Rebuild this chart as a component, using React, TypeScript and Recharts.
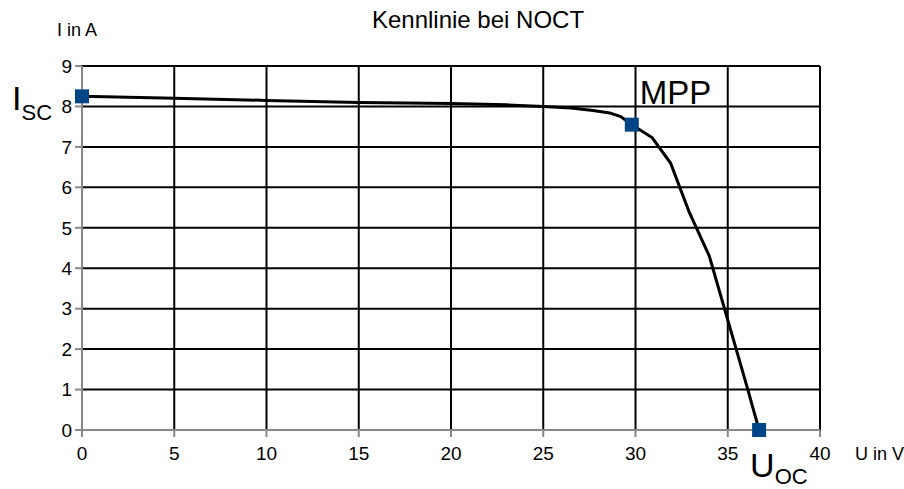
import React from 'react';
import { ComposedChart, CartesianGrid, Line, Scatter, XAxis, YAxis, ReferenceDot } from 'recharts';

const voltages = [0, 5, 10, 15, 20, 23, 25, 26.5, 27.7, 28.6, 29.2, 29.8, 30.9, 31.9, 32.9, 34, 35, 36, 36.7];
const currents = [8.25, 8.2, 8.15, 8.1, 8.07, 8.04, 8.0, 7.96, 7.9, 7.84, 7.75, 7.55, 7.23, 6.6, 5.4, 4.3, 2.72, 1.14, 0];

const markerU = [0, 29.8, 36.7];
const markerI = [8.25, 7.55, 0];

const xTicks = [0, 5, 10, 15, 20, 25, 30, 35, 40];
const yTicks = [0, 1, 2, 3, 4, 5, 6, 7, 8, 9];

const curve = voltages.map((u, i) => ({ u, i: currents[i] }));
const markers = markerU.map((u, k) => ({ u, i: markerI[k] }));

const FONT = '"Liberation Sans", Arial, sans-serif';
const BLUE = '#004586';

const Square = (props: any) => {
  const { cx, cy } = props;
  if (cx == null || cy == null) return null;
  return <rect x={cx - 7} y={cy - 7} width={14} height={14} fill={BLUE} />;
};

const IscLabel = (props: any) => (
  <text x={props.cx - 70} y={props.cy + 14} fontFamily={FONT} fill="#000">
    <tspan fontSize={34}>I</tspan>
    <tspan fontSize={22} dy={10}>SC</tspan>
  </text>
);

const MppLabel = (props: any) => (
  <text x={props.cx + 8} y={props.cy - 21} fontFamily={FONT} fontSize={33} fill="#000">
    MPP
  </text>
);

const UocLabel = (props: any) => (
  <text x={props.cx - 9} y={props.cy + 47} fontFamily={FONT} fill="#000">
    <tspan fontSize={34}>U</tspan>
    <tspan fontSize={22} dy={7}>OC</tspan>
  </text>
);

export default function App() {
  return (
    <div style={{ position: 'relative', width: 904, height: 489, fontFamily: FONT, background: '#fff' }}>
      <style>{'body{margin:0}'}</style>
      <div style={{ position: 'absolute', left: 0, width: 956, top: 6, textAlign: 'center', fontSize: 24, whiteSpace: 'nowrap' }}>
        Kennlinie bei NOCT
      </div>
      <div style={{ position: 'absolute', left: 57, top: 20, fontSize: 18, whiteSpace: 'nowrap' }}>I in A</div>
      <div style={{ position: 'absolute', left: 855, top: 444, fontSize: 18, whiteSpace: 'nowrap' }}>U in V</div>
      <ComposedChart width={904} height={489} margin={{ top: 66, right: 84, bottom: 29, left: 52 }}>
        <CartesianGrid stroke="#000" strokeWidth={2} horizontalValues={yTicks} verticalValues={xTicks} />
        <XAxis
          type="number"
          dataKey="u"
          domain={[0, 40]}
          ticks={xTicks}
          height={30}
          tickSize={7}
          tickMargin={10}
          stroke="#888"
          strokeWidth={2}
          tick={{ fill: '#000', fontSize: 19, fontFamily: FONT }}
        />
        <YAxis
          type="number"
          dataKey="i"
          domain={[0, 9]}
          ticks={yTicks}
          width={30}
          tickSize={7}
          tickMargin={3}
          stroke="#888"
          strokeWidth={2}
          tick={{ fill: '#000', fontSize: 19, fontFamily: FONT }}
        />
        <Line
          data={curve}
          dataKey="i"
          type="linear"
          stroke="#000"
          strokeWidth={3}
          dot={false}
          isAnimationActive={false}
        />
        <Scatter data={markers} dataKey="i" shape={<Square />} isAnimationActive={false} />
        <ReferenceDot x={markerU[0]} y={markerI[0]} r={0} shape={<IscLabel />} ifOverflow="visible" />
        <ReferenceDot x={markerU[1]} y={markerI[1]} r={0} shape={<MppLabel />} ifOverflow="visible" />
        <ReferenceDot x={markerU[2]} y={markerI[2]} r={0} shape={<UocLabel />} ifOverflow="visible" />
      </ComposedChart>
    </div>
  );
}
